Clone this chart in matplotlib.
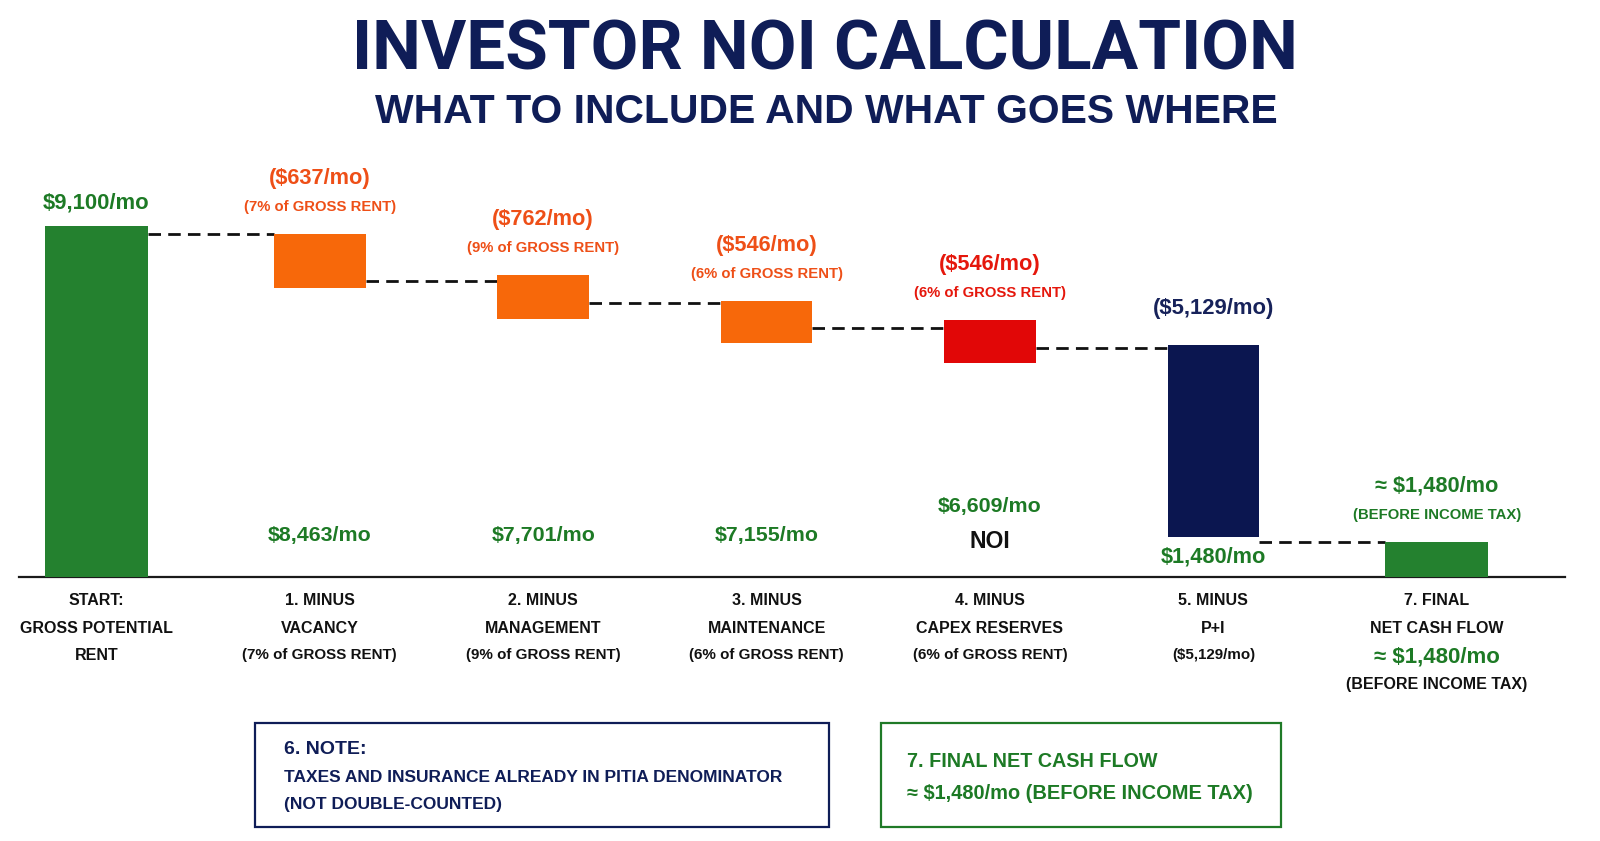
import matplotlib
matplotlib.use("Agg")
import matplotlib.pyplot as plt
from matplotlib.patches import Rectangle
from matplotlib import font_manager as fm

# ---------------- data ----------------
# The reference is illustrative, not drawn to scale: bar extents below are the
# drawn extents expressed on a scale where the start bar is 9,100.
categories = ["START:", "1. MINUS", "2. MINUS", "3. MINUS", "4. MINUS", "5. MINUS", "7. FINAL"]
category_line2 = ["GROSS POTENTIAL", "VACANCY", "MANAGEMENT", "MAINTENANCE",
                  "CAPEX RESERVES", "P+I", "NET CASH FLOW"]
category_line3 = ["RENT", "(7% of GROSS RENT)", "(9% of GROSS RENT)", "(6% of GROSS RENT)",
                  "(6% of GROSS RENT)", "($5,129/mo)", "≈ $1,480/mo"]
category_line4 = ["", "", "", "", "", "", "(BEFORE INCOME TAX)"]

bar_low = [0, 7490, 6690, 6070, 5550, 1040, 0]
bar_high = [9100, 8890, 7830, 7160, 6660, 6020, 910]
connector_levels = [8890, 7670, 7100, 6460, 5940, 910]

amount_labels = ["$9,100/mo", "($637/mo)", "($762/mo)", "($546/mo)", "($546/mo)",
                 "($5,129/mo)", "≈ $1,480/mo"]
pct_labels = ["", "(7% of GROSS RENT)", "(9% of GROSS RENT)", "(6% of GROSS RENT)",
              "(6% of GROSS RENT)", "", "(BEFORE INCOME TAX)"]
running_labels = ["", "$8,463/mo", "$7,701/mo", "$7,155/mo", "$6,609/mo", "$1,480/mo", ""]
kinds = ["total", "minus", "minus", "minus", "capex", "debt", "total"]

title = "INVESTOR NOI CALCULATION"
subtitle = "WHAT TO INCLUDE AND WHAT GOES WHERE"
note_lines = ["6. NOTE:", "TAXES AND INSURANCE ALREADY IN PITIA DENOMINATOR", "(NOT DOUBLE-COUNTED)"]
final_lines = ["7. FINAL NET CASH FLOW", "≈ $1,480/mo (BEFORE INCOME TAX)"]

# ---------------- styles ----------------
NAVY = "#0f1d57"
BAR_COL = {"total": "#24812f", "minus": "#f7680a", "capex": "#e10707", "debt": "#0b1650"}
TXT_COL = {"total": "#1d7a25", "minus": "#ee4f17", "capex": "#e5170c", "debt": "#17225a"}
GREEN_TXT = "#1d7a25"
FONT = ["Liberation Sans", "DejaVu Sans"]
PT = 0.72  # points per pixel at dpi 100


def has_font(name):
    try:
        fm.findfont(fm.FontProperties(family=name), fallback_to_default=False)
        return True
    except Exception:
        return False


TITLE_FONT = ["Roboto"] + FONT if has_font("Roboto") else FONT

W, H = 1600, 841
fig = plt.figure(figsize=(W / 100, H / 100), dpi=100)
fig.patch.set_facecolor("white")
ax = fig.add_axes([0, 0, 1, 1])
unit = 9100 / 351.0            # value units per pixel
ax.set_ylim(-(H - 577) * unit, 577 * unit)
ax.set_xlim(-96.4 / 223.4, (W - 96.4) / 223.4)
ax.axis("off")

x = list(range(len(categories)))
widths = [0.46 if k == "total" else 0.41 for k in kinds]
heights = [h - l for h, l in zip(bar_high, bar_low)]
ax.bar(x, heights, bottom=bar_low, width=widths,
       color=[BAR_COL[k] for k in kinds], zorder=3)

# baseline
ax.axhline(0, xmin=19 / W, xmax=1565 / W, color="#1a1a1a", lw=1.6, zorder=2)

# connectors
for i, lvl in enumerate(connector_levels):
    ax.plot([x[i] + widths[i] / 2, x[i + 1] - widths[i + 1] / 2], [lvl, lvl],
            color="#111111", lw=2.0, ls=(0, (4.5, 2.6)), zorder=2)

# labels above bars
for i, k in enumerate(kinds):
    col = TXT_COL[k]
    if pct_labels[i]:
        ax.annotate(amount_labels[i], (x[i], bar_high[i]), xytext=(0, 50 * PT),
                    textcoords="offset points", ha="center", va="baseline",
                    fontsize=15.7, fontweight="bold", color=col, family=FONT)
        ax.annotate(pct_labels[i], (x[i], bar_high[i]), xytext=(0, 23 * PT),
                    textcoords="offset points", ha="center", va="baseline",
                    fontsize=10.7, fontweight="bold", color=col, family=FONT)
    else:
        off = 18 if k == "total" else 31
        ax.annotate(amount_labels[i], (x[i], bar_high[i]), xytext=(0, off * PT),
                    textcoords="offset points", ha="center", va="baseline",
                    fontsize=15.9, fontweight="bold", color=col, family=FONT)

# running totals near the baseline
for i, lab in enumerate(running_labels):
    if not lab:
        continue
    k = kinds[i]
    if k == "capex":
        ax.annotate(lab, (x[i], 0), xytext=(0, 65 * PT), textcoords="offset points",
                    ha="center", va="baseline", fontsize=15.4, fontweight="bold",
                    color=GREEN_TXT, family=FONT)
        ax.annotate("NOI", (x[i], 0), xytext=(0, 29 * PT), textcoords="offset points",
                    ha="center", va="baseline", fontsize=16.6, fontweight="bold",
                    color="#111111", family=FONT)
    elif k == "debt":
        ax.annotate(lab, (x[i], 0), xytext=(0, 14 * PT), textcoords="offset points",
                    ha="center", va="baseline", fontsize=15.7, fontweight="bold",
                    color=GREEN_TXT, family=FONT)
    else:
        ax.annotate(lab, (x[i], 0), xytext=(0, 36 * PT), textcoords="offset points",
                    ha="center", va="baseline", fontsize=15.4, fontweight="bold",
                    color=GREEN_TXT, family=FONT)

# category labels below baseline
for i in x:
    ax.annotate(categories[i], (x[i], 0), xytext=(0, -28 * PT), textcoords="offset points",
                ha="center", va="baseline", fontsize=11.5, fontweight="bold",
                color="#111111", family=FONT)
    ax.annotate(category_line2[i], (x[i], 0), xytext=(0, -56 * PT), textcoords="offset points",
                ha="center", va="baseline", fontsize=11.5, fontweight="bold",
                color="#111111", family=FONT)
    l3 = category_line3[i]
    if l3.startswith("≈"):
        ax.annotate(l3, (x[i], 0), xytext=(0, -85 * PT), textcoords="offset points",
                    ha="center", va="baseline", fontsize=16, fontweight="bold",
                    color=GREEN_TXT, family=FONT)
    elif l3.startswith("("):
        ax.annotate(l3, (x[i], 0), xytext=(0, -82 * PT), textcoords="offset points",
                    ha="center", va="baseline", fontsize=10.9, fontweight="bold",
                    color="#111111", family=FONT)
    else:
        ax.annotate(l3, (x[i], 0), xytext=(0, -83 * PT), textcoords="offset points",
                    ha="center", va="baseline", fontsize=11.5, fontweight="bold",
                    color="#111111", family=FONT)
    if category_line4[i]:
        ax.annotate(category_line4[i], (x[i], 0), xytext=(0, -112 * PT),
                    textcoords="offset points", ha="center", va="baseline",
                    fontsize=11.5, fontweight="bold", color="#111111", family=FONT)

# title, sized so its width matches the reference (about 946 px)
t = fig.text(825 / W, 1 - 70 / H, title, ha="center", va="baseline", fontsize=50,
             fontweight="bold", color=NAVY, family=TITLE_FONT)
renderer = fig.canvas.get_renderer()
tw = t.get_window_extent(renderer).width
t.set_fontsize(min(56, 50 * 946.0 / tw))
fig.text(826 / W, 1 - 123 / H, subtitle, ha="center", va="baseline", fontsize=29.4,
         fontweight="bold", color=NAVY, family=FONT)

# boxes
fig.add_artist(Rectangle((255 / W, 1 - 827 / H), (829 - 255) / W, (827 - 723) / H,
                         transform=fig.transFigure, fill=False, ec=NAVY, lw=1.6))
fig.add_artist(Rectangle((881 / W, 1 - 827 / H), (1281 - 881) / W, (827 - 723) / H,
                         transform=fig.transFigure, fill=False, ec="#1f7a27", lw=1.6))
fig.text(284 / W, 1 - 754 / H, note_lines[0], ha="left", va="baseline", fontsize=14,
         fontweight="bold", color=NAVY, family=FONT)
fig.text(284 / W, 1 - 782 / H, note_lines[1], ha="left", va="baseline", fontsize=12.5,
         fontweight="bold", color=NAVY, family=FONT)
fig.text(284 / W, 1 - 809 / H, note_lines[2], ha="left", va="baseline", fontsize=12.5,
         fontweight="bold", color=NAVY, family=FONT)
fig.text(907 / W, 1 - 767 / H, final_lines[0], ha="left", va="baseline", fontsize=14.2,
         fontweight="bold", color=GREEN_TXT, family=FONT)
fig.text(907 / W, 1 - 799 / H, final_lines[1], ha="left", va="baseline", fontsize=14.4,
         fontweight="bold", color=GREEN_TXT, family=FONT)

fig.savefig("out.png", dpi=100, facecolor="white")
